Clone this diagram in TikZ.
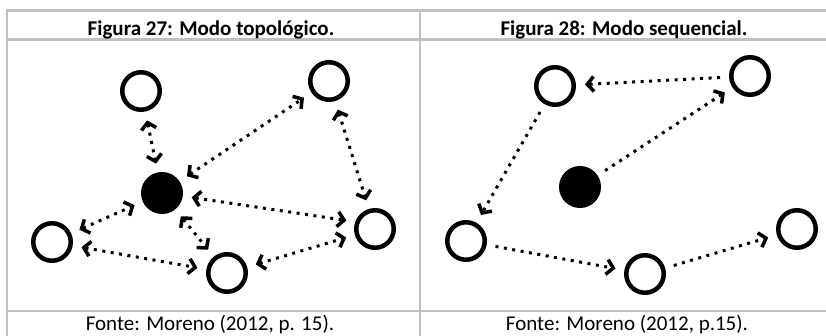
\documentclass[tikz,border=0pt]{standalone}
\usepackage{fontspec}
\setmainfont{Carlito}
\usetikzlibrary{arrows.meta}

\definecolor{rulegray}{RGB}{192,192,192}

\begin{document}
\begin{tikzpicture}[x=1pt, y=-1pt,
	        rule/.style={rulegray, line width=2.5pt},
	        peer/.style={circle, draw=black, line width=4.5pt, minimum size=37.5pt, inner sep=0pt},
	        hub/.style={peer, fill=black},
	        dots/.style={black, line width=3pt, dash pattern=on 3pt off 5.5pt, shorten <=9pt, shorten >=9pt},
	        >={Straight Barb[length=6.5pt, width=15pt, line width=3.5pt]},
	        title/.style={anchor=base, font=\fontsize{21}{24}\selectfont\bfseries},
	        source/.style={anchor=base, font=\fontsize{21}{24}\selectfont}]
	        \useasboundingbox (0, 0) rectangle (826, 336);

	        % table frame
	        \draw [rule] (7, 10.5) -- (826, 10.5);
	        \draw [rule] (7, 39.5) -- (826, 39.5);
	        \draw [rule] (7, 311) -- (826, 311);
	        \draw [rule] (7, 9.25) -- (7, 336);
	        \draw [rule] (420, 9.25) -- (420, 336);

	        \node [title] at (211, 35.5) (T27) {Figura 27: Modo topológico.};
	        \node [title] at (624, 35.5) (T28) {Figura 28: Modo sequencial.};
	        \node [source] at (210, 330) (F27) {Fonte: Moreno (2012, p. 15).};
	        \node [source] at (627, 330) (F28) {Fonte: Moreno (2012, p.15).};

	        % topological mode
	        \node [peer] at (141, 91) (TL) {};
	        \node [peer] at (329, 81) (TR) {};
	        \node [hub] at (162, 193) (C) {};
	        \node [peer] at (52, 242) (L) {};
	        \node [peer] at (227, 273) (B) {};
	        \node [peer] at (375, 229) (R) {};
	        \draw [dots, <->] (TL) -- (C);
	        \draw [dots, <->] (C) -- (TR);
	        \draw [dots, <->] (TR) -- (R);
	        \draw [dots, <->] (C) -- (R.160);
	        \draw [dots, <->] (L) -- (C);
	        \draw [dots, <->] (C) -- (B);
	        \draw [dots, <->] (L) -- (B);
	        \draw [dots, <->] (B) -- (R);

	        % sequential mode
	        \node [peer] at (555, 86) (tl) {};
	        \node [peer] at (750, 76) (tr) {};
	        \node [hub] at (580, 187) (c) {};
	        \node [peer] at (466, 241) (l) {};
	        \node [peer] at (645, 274) (b) {};
	        \node [peer] at (797, 229) (r) {};
	        \draw [dots, ->] (tr) -- (tl);
	        \draw [dots, ->] (c) -- (tr);
	        \draw [dots, ->] (tl) -- (l);
	        \draw [dots, ->] (l) -- (b);
	        \draw [dots, ->] (b) -- (r);

        \end{tikzpicture}
\end{document}
